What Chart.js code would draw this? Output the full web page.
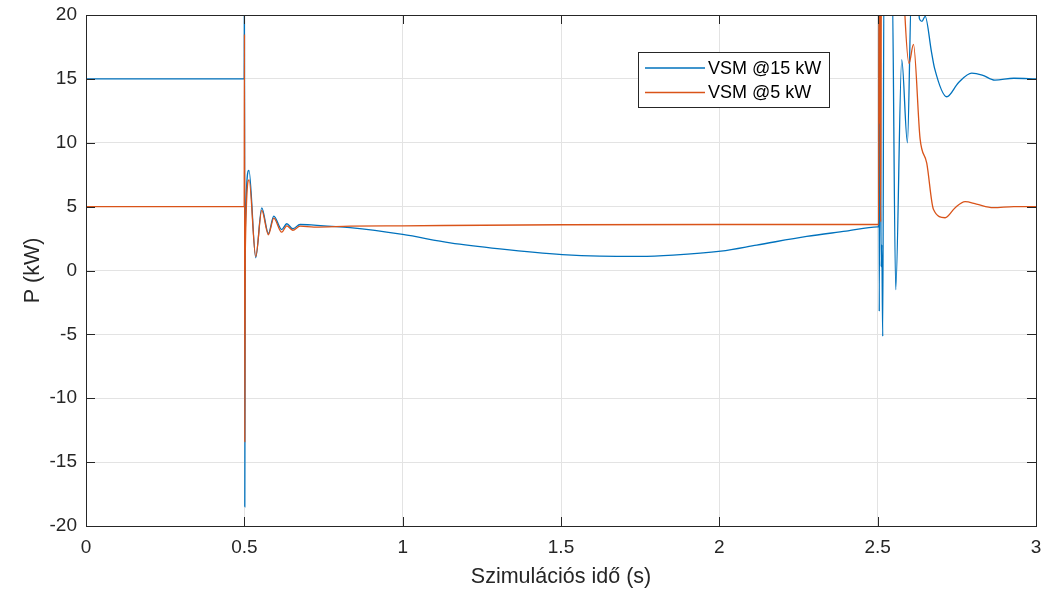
<!DOCTYPE html>
<html>
<head>
<meta charset="utf-8">
<script src="https://cdn.jsdelivr.net/npm/chart.js@4/dist/chart.umd.min.js"></script>
<style>
  html, body { margin: 0; padding: 0; background: #fff; }
  #wrap { width: 1056px; height: 590px; }
</style>
</head>
<body>
<div id="wrap"><canvas id="chart" width="1056" height="590"></canvas></div>
<script>
// time axis (s) and power (kW)
const blueT = [0, 0.4995, 0.5005, 0.5015, 0.503, 0.5147, 0.536, 0.555, 0.576, 0.593, 0.618, 0.634, 0.653, 0.676, 0.72,
  0.834, 1.0, 1.15, 1.307, 1.504, 1.623, 1.75, 1.854, 2.005, 2.118, 2.276, 2.4, 2.5, 2.503,
  2.504, 2.505, 2.508, 2.511, 2.513, 2.516, 2.520, 2.545, 2.557, 2.576, 2.594, 2.607, 2.625,
  2.632, 2.64, 2.65, 2.67, 2.68, 2.718, 2.755, 2.797, 2.83, 2.87, 2.93, 3.0];
const blueP = [15, 15, 26, -18.5, 3.0, 7.84, 1.0, 4.9, 2.9, 4.26, 3.2, 3.66, 3.27, 3.6, 3.55,
  3.35, 2.82, 2.17, 1.70, 1.25, 1.12, 1.10, 1.2, 1.52, 1.99, 2.67, 3.08, 3.42, 3.43,
  22, -3.2, 22, 0.3, 2, -5.15, 24, 24, -1.5, 16.5, 10.0, 22, 22,
  19.7, 19.5, 19.9, 17.1, 15.8, 13.6, 14.7, 15.45, 15.3, 14.9, 15.05, 15.0];

const orangeT = [0, 0.4995, 0.5005, 0.5015, 0.503, 0.515, 0.536, 0.555, 0.576, 0.593, 0.618, 0.634, 0.653, 0.676, 0.72,
  0.834, 1.0, 1.504, 2.0, 2.5, 2.503,
  2.504, 2.506, 2.5075, 2.5095, 2.512, 2.58, 2.586, 2.599, 2.613, 2.634, 2.655, 2.676, 2.713, 2.744, 2.776, 2.812, 2.865, 2.93, 3.0];
const orangeP = [5, 5, 18.5, -13.4, 1.4, 7.1, 1.1, 4.7, 2.8, 4.1, 3.0, 3.5, 3.15, 3.47, 3.4,
  3.47, 3.5, 3.58, 3.6, 3.6, 3.6,
  24, 11.5, 20, 3.8, 24, 24, 20, 16.2, 17.7, 10.3, 8.4, 4.8, 4.13, 4.9, 5.39, 5.2, 4.92, 5.0, 5.0];

const seriesNames = ["VSM @15 kW", "VSM @5 kW"];
const xTicks = [0, 0.5, 1, 1.5, 2, 2.5, 3];
const yTicks = [-20, -15, -10, -5, 0, 5, 10, 15, 20];

const FONT = "'Liberation Sans', Arial, Helvetica, sans-serif";
const BLUE = "#0072BD";
const ORANGE = "#D95319";

function toPoints(ts, ps) {
  return ts.map((t, i) => ({ x: t, y: ps[i] }));
}

// box frame with inward ticks, matlab style
const frame = {
  id: "frame",
  afterDraw(chart) {
    const { ctx, chartArea: a, scales } = chart;
    ctx.save();
    ctx.strokeStyle = "#262626";
    ctx.lineWidth = 1;
    ctx.strokeRect(a.left + 0.5, a.top + 0.5, a.right - a.left, a.bottom - a.top);
    ctx.beginPath();
    const tl = 9;
    for (const v of xTicks) {
      const px = Math.round(scales.x.getPixelForValue(v)) + 0.5;
      ctx.moveTo(px, a.bottom); ctx.lineTo(px, a.bottom - tl);
      ctx.moveTo(px, a.top); ctx.lineTo(px, a.top + tl);
    }
    for (const v of yTicks) {
      const py = Math.round(scales.y.getPixelForValue(v)) + 0.5;
      ctx.moveTo(a.left, py); ctx.lineTo(a.left + tl, py);
      ctx.moveTo(a.right, py); ctx.lineTo(a.right - tl, py);
    }
    ctx.stroke();

    // legend box
    const bx = 638.5, by = 52.5, bw = 191, bh = 55;
    ctx.fillStyle = "#fff";
    ctx.fillRect(bx, by, bw, bh);
    ctx.strokeStyle = "#262626";
    ctx.strokeRect(bx, by, bw, bh);
    const colors = [BLUE, ORANGE];
    ctx.font = "18px " + FONT;
    ctx.textBaseline = "middle";
    ctx.textAlign = "left";
    seriesNames.forEach((name, i) => {
      const ly = 68 + i * 24.5;
      ctx.strokeStyle = colors[i];
      ctx.lineWidth = 1.3;
      ctx.beginPath();
      ctx.moveTo(645, ly); ctx.lineTo(705, ly);
      ctx.stroke();
      ctx.fillStyle = "#000";
      ctx.fillText(name, 708, ly + 1);
    });
    ctx.restore();
  }
};

new Chart(document.getElementById("chart"), {
  type: "line",
  data: {
    datasets: [
      {
        label: seriesNames[0],
        data: toPoints(blueT, blueP),
        borderColor: BLUE,
        borderWidth: 1.3,
        pointRadius: 0,
        cubicInterpolationMode: "monotone",
        order: 1,
      },
      {
        label: seriesNames[1],
        data: toPoints(orangeT, orangeP),
        borderColor: ORANGE,
        borderWidth: 1.3,
        pointRadius: 0,
        cubicInterpolationMode: "monotone",
        order: 0,
      },
    ],
  },
  options: {
    responsive: false,
    animation: false,
    layout: { padding: { top: 15, right: 20, left: 0, bottom: 0 } },
    plugins: { legend: { display: false }, tooltip: { enabled: false } },
    scales: {
      x: {
        type: "linear",
        min: 0,
        max: 3,
        afterFit(s) { s.height = 64; s.paddingLeft = 0; s.paddingRight = 0; },
        afterBuildTicks(s) { s.ticks = xTicks.map(v => ({ value: v })); },
        grid: { color: "#e3e3e3", drawTicks: false },
        border: { display: false },
        ticks: { color: "#262626", font: { family: FONT, size: 19 }, padding: 10, maxRotation: 0,
          callback: (v) => String(v) },
        title: { display: true, text: "Szimulációs idő (s)", color: "#262626", font: { family: FONT, size: 21.5 }, padding: { top: 0, bottom: 0 } },
      },
      y: {
        min: -20,
        max: 20,
        afterFit(s) { s.width = 86; s.paddingTop = 0; s.paddingBottom = 0; },
        afterBuildTicks(s) { s.ticks = yTicks.map(v => ({ value: v })); },
        grid: { color: "#e3e3e3", drawTicks: false },
        border: { display: false },
        ticks: { color: "#262626", font: { family: FONT, size: 19 }, padding: 9, callback: (v) => String(v) },
        title: { display: true, text: "P (kW)", color: "#262626", font: { family: FONT, size: 21.5 }, padding: { top: 20, bottom: 0 } },
      },
    },
  },
  plugins: [frame],
});
</script>
</body>
</html>
